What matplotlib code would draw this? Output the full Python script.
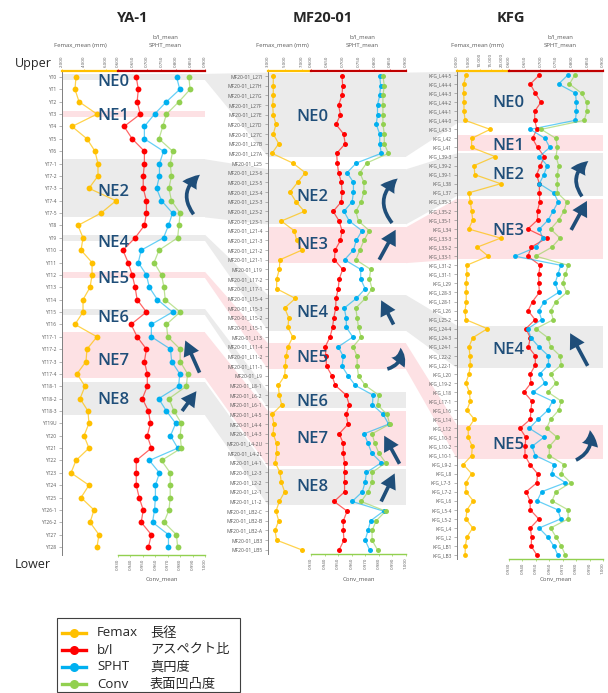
import numpy as np
import matplotlib
matplotlib.use("Agg")
import matplotlib.pyplot as plt
from matplotlib.patches import Polygon, Rectangle, FancyArrowPatch
from matplotlib.lines import Line2D

plt.rcParams['font.family'] = ['Open Sans', 'Noto Sans CJK JP', 'DejaVu Sans']

W, H = 608, 693
YEL, RED, BLUE, GREEN = "#ffc000", "#ff0000", "#00b0f0", "#92d050"
GRAY, PINK, NAVY = "#ebebeb", "#fde1e4", "#1f4e79"
TXT = "#595959"

# ---------------- YA-1 ----------------
ya_labels = ["YT0", "YT1", "YT2", "YT3", "YT4", "YT5", "YT6", "YT7-1", "YT7-2", "YT7-3",
             "YT7-4", "YT7-5", "YT8", "YT9", "YT10", "YT11", "YT12", "YT13", "YT14", "YT15",
             "YT16", "YT17-1", "YT17-2", "YT17-3", "YT17-4", "YT18-1", "YT18-2", "YT18-3",
             "YT19U", "YT20", "YT21", "YT22", "YT23", "YT24", "YT25", "YT26-1", "YT26-2",
             "YT27", "YT28"]
ya_femax = [3.27, 3.18, 3.55, 5.18, 2.91, 4.27, 5.00, 5.27, 5.27, 4.45, 6.91, 5.55, 3.45,
            3.91, 3.73, 4.73, 4.73, 4.55, 3.91, 3.91, 3.18, 5.18, 4.27, 4.18, 3.36, 4.09,
            3.64, 4.36, 4.45, 4.00, 4.45, 3.27, 2.82, 4.45, 3.73, 4.91, 4.55, 5.36, 5.18]
ya_bl = [0.663, 0.670, 0.666, 0.677, 0.621, 0.649, 0.691, 0.691, 0.687, 0.687, 0.698, 0.698,
         0.691, 0.659, 0.617, 0.635, 0.649, 0.659, 0.666, 0.698, 0.645, 0.666, 0.698, 0.691,
         0.701, 0.701, 0.684, 0.705, 0.712, 0.701, 0.715, 0.663, 0.663, 0.663, 0.673, 0.687,
         0.680, 0.715, 0.705]
ya_spht = [0.802, 0.813, 0.767, 0.726, 0.691, 0.691, 0.757, 0.743, 0.743, 0.733, 0.750, 0.788,
           0.774, 0.757, 0.680, 0.670, 0.698, 0.708, 0.736, 0.788, 0.715, 0.715, 0.781, 0.785,
           0.813, 0.809, 0.740, 0.767, 0.799, 0.781, 0.806, 0.708, 0.743, 0.729, 0.729, 0.726,
           0.719, 0.774, 0.774]
ya_conv = [0.987, 0.988, 0.979, 0.969, 0.966, 0.963, 0.974, 0.972, 0.973, 0.971, 0.973, 0.980,
           0.979, 0.978, 0.963, 0.959, 0.965, 0.967, 0.968, 0.980, 0.969, 0.970, 0.980, 0.980,
           0.986, 0.985, 0.971, 0.975, 0.981, 0.980, 0.981, 0.965, 0.972, 0.972, 0.972, 0.971,
           0.967, 0.977, 0.978]
ya_bands = [("NE0", "YT0", "YT0", "g"), ("NE1", "YT3", "YT3", "p"), ("NE2", "YT7-1", "YT7-5", "g"),
            ("NE4", "YT9", "YT9", "g"), ("NE5", "YT12", "YT12", "p"), ("NE6", "YT15", "YT15", "g"),
            ("NE7", "YT17-1", "YT17-4", "p"), ("NE8", "YT18-1", "YT18-3", "g")]

# ---------------- MF20-01 ----------------
mf_ids = ["L27I", "L27H", "L27G", "L27F", "L27E", "L27D", "L27C", "L27B", "L27A", "L25",
          "L23-6", "L23-5", "L23-4", "L23-3", "L23-2", "L23-1", "L21-4", "L21-3", "L21-2",
          "L21-1", "L19", "L17-2", "L17-1", "L15-4", "L15-3", "L15-2", "L15-1", "L13",
          "L11-4", "L11-2", "L11-1", "L9", "L8-1", "L6-2", "L6-1", "L4-5", "L4-4", "L4-3",
          "L4-2U", "L4-2L", "L4-1", "L2-3", "L2-2", "L2-1", "L1-2", "LB2-C", "LB2-B", "LB2-A",
          "LB3", "LB5"]
mf_labels = ["MF20-01_" + s for s in mf_ids]
mf_femax = [3.62, 3.62, 3.62, 3.55, 3.62, 3.94, 3.62, 4.26, 3.47, 5.91, 7.39, 6.49, 5.59,
            6.29, 7.27, 4.56, 6.09, 6.38, 7.00, 4.41, 4.33, 4.02, 4.02, 6.21, 4.96, 5.44,
            5.35, 5.91, 5.35, 5.12, 5.04, 4.96, 4.21, 4.33, 4.61, 3.47, 3.71, 3.59, 4.02,
            4.02, 3.86, 4.41, 4.56, 4.96, 4.33, 3.94, 4.26, 3.82, 4.02, 6.96]
mf_bl = [0.698, 0.700, 0.698, 0.687, 0.693, 0.679, 0.703, 0.708, 0.681, 0.683, 0.687, 0.696,
         0.698, 0.696, 0.670, 0.689, 0.698, 0.693, 0.676, 0.674, 0.700, 0.689, 0.686, 0.679,
         0.678, 0.672, 0.668, 0.660, 0.645, 0.647, 0.649, 0.666, 0.677, 0.711, 0.721, 0.711,
         0.717, 0.689, 0.702, 0.702, 0.706, 0.706, 0.706, 0.706, 0.673, 0.714, 0.702, 0.702,
         0.704, 0.689]
mf_spht = [0.817, 0.820, 0.817, 0.810, 0.810, 0.806, 0.817, 0.817, 0.822, 0.743, 0.714, 0.734,
           0.734, 0.730, 0.704, 0.721, 0.761, 0.743, 0.734, 0.706, 0.757, 0.757, 0.771, 0.743,
           0.705, 0.711, 0.712, 0.732, 0.686, 0.702, 0.698, 0.717, 0.740, 0.796, 0.794, 0.828,
           0.845, 0.768, 0.780, 0.792, 0.822, 0.775, 0.771, 0.762, 0.730, 0.829, 0.788, 0.780,
           0.771, 0.785]
mf_conv = [0.983, 0.984, 0.983, 0.983, 0.983, 0.983, 0.984, 0.984, 0.987, 0.971, 0.966, 0.969,
           0.969, 0.967, 0.963, 0.965, 0.973, 0.969, 0.966, 0.963, 0.974, 0.973, 0.975, 0.970,
           0.963, 0.964, 0.965, 0.967, 0.961, 0.964, 0.964, 0.965, 0.970, 0.980, 0.979, 0.986,
           0.988, 0.975, 0.977, 0.980, 0.985, 0.975, 0.975, 0.972, 0.967, 0.985, 0.978, 0.975,
           0.975, 0.979]
mf_bands = [("NE0", "L27I", "L27A", "g"), ("NE2", "L23-6", "L23-1", "g"),
            ("NE3", "L21-4", "L21-1", "p"), ("NE4", "L15-4", "L15-1", "g"),
            ("NE5", "L11-4", "L11-1", "p"), ("NE6", "L6-2", "L6-1", "g"),
            ("NE7", "L4-5", "L4-1", "p"), ("NE8", "L2-3", "L1-2", "g")]

# ---------------- KFG ----------------
kfg_ids = ["L44-5", "L44-4", "L44-3", "L44-2", "L44-1", "L44-0", "L43-3", "L42", "L41",
           "L39-3", "L39-2", "L39-1", "L38", "L37", "L35-3", "L35-2", "L35-1", "L34", "L33-3",
           "L33-2", "L33-1", "L31-2", "L31-1", "L29", "L28-3", "L28-1", "L26", "L25-2",
           "L24-4", "L24-3", "L24-1", "L22-2", "L22-1", "L20", "L19-2", "L18", "L17-1", "L16",
           "L14", "L12", "L10-3", "L10-2", "L10-1", "L9-2", "L8", "L7-3", "L7-2", "L6",
           "L5-4", "L5-2", "L4", "L2", "LB1", "LB3"]
kfg_labels = ["KFG_" + s for s in kfg_ids]
kfg_femax = [4.0, 3.0, 3.0, 3.1, 3.1, 3.6, 14.7, 6.5, 6.5, 16.9, 7.6, 7.9, 19.4, 5.3, 5.9,
             6.5, 7.0, 5.2, 19.4, 9.0, 13.9, 4.3, 4.4, 4.1, 4.1, 4.1, 3.6, 3.9, 13.5, 7.0,
             5.3, 5.8, 5.9, 5.3, 3.9, 5.5, 5.9, 4.4, 7.7, 5.0, 5.0, 6.8, 6.5, 2.8, 6.5, 3.9,
             4.0, 7.2, 4.4, 4.0, 7.0, 4.4, 3.7, 3.6]
kfg_bl = [0.697, 0.668, 0.684, 0.702, 0.682, 0.682, 0.689, 0.675, 0.691, 0.713, 0.700, 0.688,
          0.697, 0.697, 0.698, 0.691, 0.691, 0.660, 0.720, 0.671, 0.660, 0.699, 0.695, 0.695,
          0.697, 0.675, 0.661, 0.683, 0.654, 0.668, 0.662, 0.684, 0.684, 0.668, 0.670, 0.648,
          0.673, 0.670, 0.668, 0.635, 0.654, 0.651, 0.651, 0.667, 0.691, 0.689, 0.655, 0.667,
          0.668, 0.695, 0.668, 0.672, 0.671, 0.689]
kfg_spht = [0.788, 0.758, 0.812, 0.815, 0.815, 0.812, 0.668, 0.715, 0.730, 0.697, 0.722, 0.711,
            0.697, 0.743, 0.757, 0.741, 0.725, 0.697, 0.707, 0.687, 0.619, 0.765, 0.756, 0.747,
            0.758, 0.713, 0.695, 0.704, 0.660, 0.670, 0.695, 0.726, 0.726, 0.698, 0.714, 0.678,
            0.739, 0.724, 0.693, 0.665, 0.711, 0.673, 0.684, 0.745, 0.736, 0.780, 0.704, 0.690,
            0.756, 0.765, 0.696, 0.724, 0.743, 0.756]
kfg_conv = [0.979, 0.975, 0.984, 0.988, 0.988, 0.986, 0.954, 0.965, 0.966, 0.965, 0.967, 0.966,
            0.966, 0.966, 0.973, 0.971, 0.967, 0.961, 0.968, 0.962, 0.950, 0.974, 0.972, 0.970,
            0.973, 0.965, 0.961, 0.963, 0.950, 0.959, 0.961, 0.968, 0.969, 0.961, 0.965, 0.959,
            0.969, 0.967, 0.961, 0.958, 0.966, 0.960, 0.960, 0.971, 0.969, 0.976, 0.965, 0.962,
            0.974, 0.974, 0.961, 0.965, 0.969, 0.972]
kfg_bands = [("NE0", "KFG_L44-5", "KFG_L44-0", "g"), ("NE1", "KFG_L42", "KFG_L41", "p"),
             ("NE2", "KFG_L39-3", "KFG_L37", "g"), ("NE3", "KFG_L35-3", "KFG_L33-1", "p"),
             ("NE4", "KFG_L24-4", "KFG_L22-1", "g"), ("NE5", "KFG_L12", "KFG_L10-1", "p")]
mf_bands = [(n, "MF20-01_" + a, "MF20-01_" + b, k) for n, a, b, k in mf_bands]

legend_rows = [("Femax", "長径", YEL), ("b/l", "アスペクト比", RED),
               ("SPHT", "真円度", BLUE), ("Conv", "表面凹凸度", GREEN)]

# layout of each panel (pixels), label spots and arrows (panel fraction, row)
ya_geo = dict(title="YA-1", title_x=133, fe=(62, 118), r=(118, 205), bot=555, row0=77, step=12.37,
              fe_lim=(2, 7.09), fe_ticks=[2, 4, 6], fe_hdr=80, ms=4.2, lab_fs=3.5,
              text=dict(NE0=(0.36, 0.4), NE1=(0.36, 3.15), NE2=(0.36, 9.3), NE4=(0.36, 13.4),
                        NE5=(0.36, 16.3), NE6=(0.36, 19.5), NE7=(0.36, 22.95), NE8=(0.36, 26.1)),
              arrows=[(0.92, 11.1, 0.965, 7.9, -0.5), (0.962, 23.9, 0.862, 21.3, 0),
                      (0.84, 27.0, 0.94, 25.4, 0)])
mf_geo = dict(title="MF20-01", title_x=323, fe=(268, 311), r=(311, 406), bot=554, row0=76, step=9.67,
              fe_lim=(3, 8.06), fe_ticks=[3, 5, 7], fe_hdr=282, ms=3.6, lab_fs=3.6,
              text=dict(NE0=(0.32, 4.2), NE2=(0.32, 12.5), NE3=(0.32, 17.5), NE4=(0.32, 24.5),
                        NE5=(0.32, 29.2), NE6=(0.32, 33.7), NE7=(0.32, 37.5), NE8=(0.32, 42.5)),
              arrows=[(0.899, 15.2, 0.94, 10.6, -0.5), (0.806, 19.0, 0.925, 15.9, 0),
                      (0.91, 25.7, 0.82, 23.2, 0), (0.865, 30.3, 0.96, 28.1, 0.45),
                      (0.953, 40.1, 0.842, 37.2, 0), (0.82, 44.0, 0.918, 41.1, 0)])
kfg_geo = dict(title="KFG", title_x=511, fe=(457, 509), r=(509, 603), bot=559, row0=75, step=9.06,
               fe_lim=(0, 23.1), fe_ticks=[0, 5, 10, 15, 20], fe_hdr=477, ms=3.5, lab_fs=3.4,
               text=dict(NE0=(0.35, 3.1), NE1=(0.35, 7.8), NE2=(0.35, 11.0), NE3=(0.35, 17.2),
                         NE4=(0.35, 30.4), NE5=(0.35, 40.8)),
               arrows=[(0.856, 13.4, 0.9, 9.5, -0.5), (0.782, 17.1, 0.89, 13.9, 0),
                       (0.895, 32.1, 0.775, 28.5, 0), (0.815, 42.5, 0.91, 39.2, 0.4)])

TOP = 70.7

fig = plt.figure(figsize=(W / 100, H / 100), dpi=100)
fig.patch.set_facecolor("white")


def frect(x0, y0, x1, y1):
    return [x0 / W, 1 - y1 / H, (x1 - x0) / W, (y1 - y0) / H]


def fpt(x, y):
    return x / W, 1 - y / H


def draw_panel(labels, femax, bl, spht, conv, bands, geo):
    n = len(labels)
    rows = np.arange(n)
    ylim = ((geo["bot"] - geo["row0"]) / geo["step"], (TOP - geo["row0"]) / geo["step"])
    x0, x1 = geo["fe"][0], geo["r"][1]

    # shaded horizons behind everything
    bg = fig.add_axes(frect(x0, TOP, x1, geo["bot"]), zorder=-1)
    bg.set_xlim(0, 1)
    bg.set_ylim(*ylim)
    bg.axis("off")
    spans = {}
    for name, a, b, kind in bands:
        ia, ib = labels.index(a), labels.index(b)
        pad = 0.25 if ia == ib else 0.35
        spans[name] = (ia - pad, ib + pad, kind)
        bg.axhspan(ia - pad, ib + pad, color=GRAY if kind == "g" else PINK, lw=0)

    # Femax
    ax_fe = fig.add_axes(frect(geo["fe"][0], TOP, geo["fe"][1], geo["bot"]))
    ax_fe.patch.set_alpha(0)
    ax_fe.plot(femax, rows, color=YEL, lw=0.9, alpha=0.7, zorder=2)
    ax_fe.plot(femax, rows, "o", color=YEL, ms=geo["ms"], mew=0, zorder=3)
    ax_fe.set_xlim(*geo["fe_lim"])
    ax_fe.set_ylim(*ylim)
    ax_fe.xaxis.tick_top()
    ax_fe.set_xticks(geo["fe_ticks"], labels=[f"{t:.3f}" for t in geo["fe_ticks"]])
    ax_fe.tick_params(axis="x", labelsize=3.2, labelcolor=TXT, labelrotation=90,
                      length=1.5, width=0.5, color=YEL, pad=1)
    ax_fe.set_yticks(rows, labels=labels)
    ax_fe.tick_params(axis="y", labelsize=geo["lab_fs"], labelcolor=TXT, length=2,
                      width=0.4, color="#7f7f7f", pad=2)
    for s in ("right", "bottom"):
        ax_fe.spines[s].set_visible(False)
    ax_fe.spines["top"].set_color(YEL)
    ax_fe.spines["top"].set_linewidth(1.6)
    ax_fe.spines["left"].set_color("#7f7f7f")
    ax_fe.spines["left"].set_linewidth(0.7)

    # b/l and SPHT (top scale), Conv (bottom scale)
    ax_r = fig.add_axes(frect(geo["r"][0], TOP, geo["r"][1], geo["bot"]))
    ax_r.patch.set_alpha(0)
    ax_c = ax_r.twiny()
    ax_r.plot(bl, rows, color=RED, lw=0.9, alpha=0.6, zorder=2)
    ax_r.plot(bl, rows, "o", color=RED, ms=geo["ms"], mew=0, zorder=3)
    ax_r.plot(spht, rows, color=BLUE, lw=0.9, alpha=0.6, zorder=2)
    ax_r.plot(spht, rows, "o", color=BLUE, ms=geo["ms"], mew=0, zorder=3)
    ax_c.plot(conv, rows, color=GREEN, lw=0.9, alpha=0.6, zorder=2)
    ax_c.plot(conv, rows, "o", color=GREEN, ms=geo["ms"], mew=0, zorder=3)
    ax_r.set_xlim(0.6, 0.9)
    ax_c.set_xlim(0.93, 1.0)
    ax_r.set_ylim(*ylim)
    ax_r.set_yticks([])
    ax_r.xaxis.tick_top()
    bt = np.arange(0.6, 0.9001, 0.05)
    ax_r.set_xticks(bt, labels=[f"{t:.3f}" for t in bt])
    ax_r.tick_params(axis="x", labelsize=3.2, labelcolor=TXT, labelrotation=90,
                     length=1.5, width=0.5, color="#c00000", pad=1)
    ax_c.xaxis.tick_bottom()
    ax_c.xaxis.set_label_position("bottom")
    ct = np.arange(0.93, 1.0001, 0.01)
    ax_c.set_xticks(ct, labels=[f"{t:.3f}" for t in ct])
    ax_c.tick_params(axis="x", labelsize=3.2, labelcolor=TXT, labelrotation=90,
                     length=1.5, width=0.5, color=GREEN, pad=1)
    for s in ("left", "right", "bottom"):
        ax_r.spines[s].set_visible(False)
    ax_r.spines["top"].set_color("#c00000")
    ax_r.spines["top"].set_linewidth(1.6)
    for s in ("left", "right", "top"):
        ax_c.spines[s].set_visible(False)
    ax_c.spines["bottom"].set_color(GREEN)
    ax_c.spines["bottom"].set_linewidth(1.0)

    # horizon names and trend arrows on top
    ov = fig.add_axes(frect(x0, TOP, x1, geo["bot"]), zorder=5)
    ov.set_xlim(0, 1)
    ov.set_ylim(*ylim)
    ov.axis("off")
    for name, (tx, ty) in geo["text"].items():
        ov.text(tx, ty, name, color=NAVY, fontsize=12, fontweight="semibold",
                ha="center", va="center", clip_on=False)
    for ax_, ay, bx, by, rad in geo["arrows"]:
        ov.add_artist(FancyArrowPatch(
            (ax_, ay), (bx, by), transform=ov.transData,
            arrowstyle="simple,head_length=0.9,head_width=1.0,tail_width=0.22",
            mutation_scale=12, connectionstyle=f"arc3,rad={rad}",
            shrinkA=0, shrinkB=0, color=NAVY, lw=0, clip_on=False))

    # headers
    rc = (geo["r"][0] + geo["r"][1]) / 2
    fig.text(*fpt(geo["title_x"], 17.5), geo["title"], fontsize=10.5, fontweight="bold",
             ha="center", va="center", color="#262626")
    fig.text(*fpt(geo["fe_hdr"], 45), "Femax_mean (mm)", fontsize=4.3, color=TXT,
             ha="center", va="center")
    fig.text(*fpt(rc + 4, 37), "b/l_mean", fontsize=4.3, color=TXT, ha="center", va="center")
    fig.text(*fpt(rc + 4, 45), "SPHT_mean", fontsize=4.3, color=TXT, ha="center", va="center")
    fig.text(*fpt(rc, 579), "Conv_mean", fontsize=4.3, color=TXT, ha="center", va="center")
    return dict(bg=bg, spans=spans)


pa = draw_panel(ya_labels, ya_femax, ya_bl, ya_spht, ya_conv, ya_bands, ya_geo)
pb = draw_panel(mf_labels, mf_femax, mf_bl, mf_spht, mf_conv, mf_bands, mf_geo)
pc = draw_panel(kfg_labels, kfg_femax, kfg_bl, kfg_spht, kfg_conv, kfg_bands, kfg_geo)

to_fig = fig.transFigure.inverted()


def connect(p, q, name):
    # ribbon linking the same horizon in two neighbouring sections
    a0, a1, kind = p["spans"][name]
    b0, b1, _ = q["spans"][name]
    pts = [p["bg"].transData.transform((1, a0)), q["bg"].transData.transform((0, b0)),
           q["bg"].transData.transform((0, b1)), p["bg"].transData.transform((1, a1))]
    poly = Polygon(to_fig.transform(pts), closed=True, transform=fig.transFigure,
                   color=GRAY if kind == "g" else PINK, lw=0, zorder=-2)
    fig.add_artist(poly)


for nm in ["NE0", "NE2", "NE4", "NE5", "NE6", "NE7", "NE8"]:
    connect(pa, pb, nm)
for nm in ["NE0", "NE2", "NE3", "NE4", "NE5"]:
    connect(pb, pc, nm)

fig.text(*fpt(15, 64), "Upper", fontsize=9, ha="left", va="center", color="#262626")
fig.text(*fpt(15, 564), "Lower", fontsize=9, ha="left", va="center", color="#262626")

# legend box
fig.add_artist(Rectangle(fpt(57, 692), (240 - 57) / W, (692 - 618) / H, transform=fig.transFigure,
                         fill=False, ec="#404040", lw=0.8))
for i, (en, jp, col) in enumerate(legend_rows):
    y = 633 + i * 17
    fig.add_artist(Line2D([62 / W, 86 / W], [1 - y / H] * 2, transform=fig.transFigure,
                          color=col, lw=2.4))
    fig.add_artist(Line2D([74 / W], [1 - y / H], transform=fig.transFigure, marker="o",
                          color=col, ms=6.5, mew=0))
    fig.text(*fpt(97, y), en, fontsize=9.5, ha="left", va="center", color="#262626")
    fig.text(*fpt(150, y), jp, fontsize=9.5, ha="left", va="center", color="#262626",
             family=["Noto Sans CJK JP"])

fig.savefig("out.png", dpi=100)
